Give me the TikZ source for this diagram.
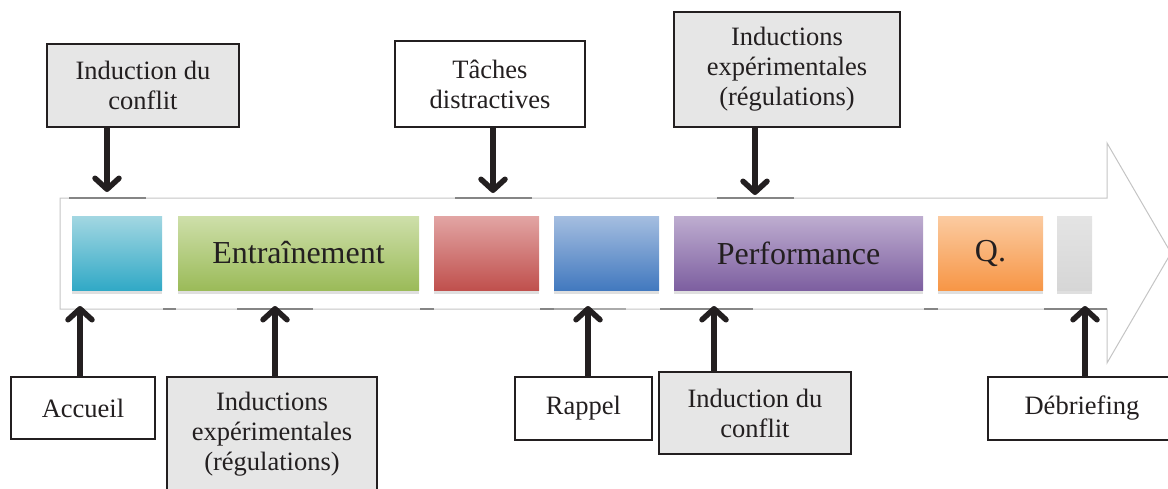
\documentclass[tikz,border=0pt]{standalone}
\usepackage{fontspec}
\setmainfont{Liberation Serif}
\usetikzlibrary{arrows.meta,shadows}
\definecolor{ink}{HTML}{231F20}
\definecolor{boxgray}{HTML}{E6E6E6}
\definecolor{outl}{HTML}{C4C4C4}
\definecolor{outd}{HTML}{858585}
\definecolor{cyanT}{HTML}{A3D7E2}
\definecolor{cyanB}{HTML}{31A9C6}
\definecolor{greenT}{HTML}{CEDFAA}
\definecolor{greenB}{HTML}{9BBB59}
\definecolor{redT}{HTML}{E2A5A4}
\definecolor{redB}{HTML}{C0504D}
\definecolor{blueT}{HTML}{A5BEE0}
\definecolor{blueB}{HTML}{4279BF}
\definecolor{purpT}{HTML}{BEADD0}
\definecolor{purpB}{HTML}{7D5FA0}
\definecolor{oranT}{HTML}{FBCBA1}
\definecolor{oranB}{HTML}{F79646}
\definecolor{grayT}{HTML}{E4E4E4}
\definecolor{grayB}{HTML}{D6D6D6}
\begin{document}
\begin{tikzpicture}[x=1pt,y=-1pt,
  lbl/.style={draw=ink, line width=1.5pt, text=ink, align=center,
    font=\fontsize{26.5}{30}\selectfont, inner sep=0pt},
  graybox/.style={lbl, fill=boxgray},
  whitebox/.style={lbl, fill=white},
  blk/.style={minimum height=74pt, inner sep=0pt, text=ink,
    font=\fontsize{32}{36}\selectfont,
    drop shadow={shadow xshift=0pt,shadow yshift=-4pt,opacity=0.25}},
  arr/.style={line width=5.5pt, draw=ink, -{Straight Barb[length=11pt,width=24pt,round]}},
  outline/.style={draw=outl, line width=1pt},
  darkseg/.style={draw=outd, line width=2pt},
]
\useasboundingbox (0,0) rectangle (1168,488);

% big arrow outline
\draw[outline] (60,198) -- (1107,198) -- (1107,143) -- (1171,253) -- (1107,363)
  -- (1107,309) -- (60,309) -- cycle;
% darker segments of the outline
\foreach \a/\b in {69/146, 455/532, 717/794}
  \draw[darkseg] (\a,198) -- (\b,198);
\foreach \a/\b in {163/176, 237/313, 420/434, 540/554, 660/674, 674/753, 924/938, 1044/1107}
  \draw[darkseg] (\a,309) -- (\b,309);
\draw[draw=outd!70, line width=1.5pt] (554,309) -- (626,309);

% coloured blocks
\node[blk, minimum width=90pt, top color=cyanT, bottom color=cyanB] (k1) at (117,253) {};
\node[blk, minimum width=241pt, top color=greenT, bottom color=greenB] (k2) at (298.5,253) {Entraînement};
\node[blk, minimum width=105pt, top color=redT, bottom color=redB] (k3) at (486.5,253) {};
\node[blk, minimum width=105pt, top color=blueT, bottom color=blueB] (k4) at (606.5,253) {};
\node[blk, minimum width=249pt, top color=purpT, bottom color=purpB] (k5) at (798.5,253) {Performance};
\node[blk, minimum width=105pt, top color=oranT, bottom color=oranB] (k6) at (990.5,253) {Q.};
\node[blk, minimum width=35pt, top color=grayT, bottom color=grayB] (k7) at (1074.5,253) {};

% top label boxes
\node[graybox, minimum width=192pt, minimum height=83pt] (t1) at (143,85.5) {Induction du\\conflit};
\node[whitebox, minimum width=190pt, minimum height=86pt] (t2) at (490,84) {Tâches\\distractives};
\node[graybox, minimum width=226pt, minimum height=115pt] (t3) at (787,69.5) {Inductions\\expérimentales\\(régulations)};

% bottom label boxes
\node[whitebox, minimum width=144pt, minimum height=62pt] (u1) at (83,408) {Accueil};
\node[graybox, minimum width=210pt, minimum height=115pt] (u2) at (272,434.5) {Inductions\\expérimentales\\(régulations)};
\node[whitebox, minimum width=137pt, minimum height=63pt] (u3) at (583.5,408.5) {Rappel};
\node[graybox, minimum width=192pt, minimum height=82pt] (u4) at (755,413) {Induction du\\conflit};
\node[whitebox, minimum width=188pt, minimum height=63pt] (u5) at (1082,408.5) {Débriefing};

% arrow ends
\coordinate (p1) at (107,192);
\coordinate (p2) at (493,193);
\coordinate (p3) at (755,195);
\coordinate (q1) at (80,306);
\coordinate (q2) at (275,306);
\coordinate (q3) at (588,306);
\coordinate (q4) at (714,306);
\coordinate (q5) at (1085,306);

\draw[arr] (t1.south -| p1) -- (p1);
\draw[arr] (t2.south -| p2) -- (p2);
\draw[arr] (t3.south -| p3) -- (p3);
\draw[arr] (u1.north -| q1) -- (q1);
\draw[arr] (u2.north -| q2) -- (q2);
\draw[arr] (u3.north -| q3) -- (q3);
\draw[arr] (u4.north -| q4) -- (q4);
\draw[arr] (u5.north -| q5) -- (q5);
\end{tikzpicture}
\end{document}
